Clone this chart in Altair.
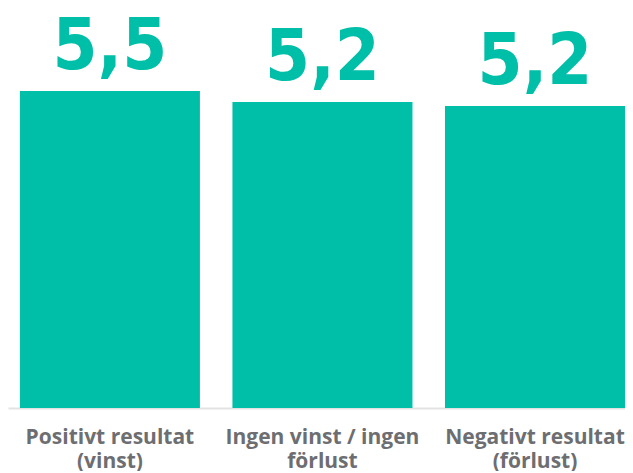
import altair as alt
import pandas as pd

categories = ["Positivt resultat|(vinst)", "Ingen vinst / ingen|förlust", "Negativt resultat|(förlust)"]
values = [5.5, 5.31, 5.24]
labels = ["5,5", "5,2", "5,2"]

df = pd.DataFrame({"cat": categories, "val": values, "lab": labels})

TEAL = "#00BFA8"

x = alt.X(
    "cat:N",
    sort=categories,
    title=None,
    scale=alt.Scale(paddingInner=0.153, paddingOuter=0.028, align=1),
    axis=alt.Axis(
        labelExpr="split(datum.label, '|')",
        labelAngle=0,
        ticks=False,
        labelPadding=18,
        labelLimit=0,
        labelFont="Open Sans",
        labelFontWeight="bold",
        labelFontSize=21,
        labelColor="#6d6e71",
        labelLineHeight=24,
        domainColor="#e3e3e3",
        domainWidth=2,
    ),
)
y = alt.Y("val:Q", scale=alt.Scale(domain=[0, 6.94], nice=False), axis=None)

bars = alt.Chart(df).mark_bar(color=TEAL).encode(x=x, y=y)
text = alt.Chart(df).mark_text(
    color=TEAL,
    font="DejaVu Sans Condensed, Roboto Condensed, Roboto",
    fontWeight="bold",
    fontSize=72,
    baseline="alphabetic",
    dy=-22,
).encode(x=x, y=y, text="lab:N")

chart = (
    alt.layer(bars, text)
    .properties(width=617, height=400, padding=0)
    .configure_view(stroke=None)
)

chart.save("out.html", embed_options={"renderer": "svg", "actions": False})
